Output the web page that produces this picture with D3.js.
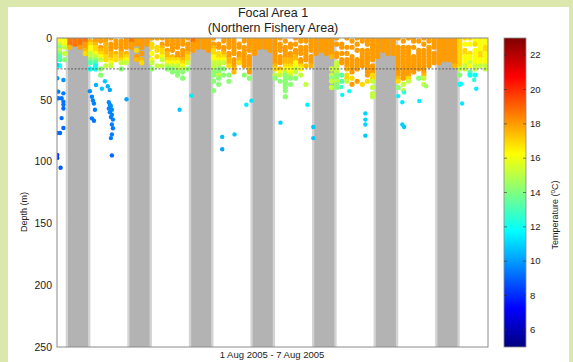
<!DOCTYPE html>
<html>
<head>
<meta charset="utf-8">
<script src="https://cdn.jsdelivr.net/npm/d3@7"></script>
<style>
  html, body { margin: 0; padding: 0; background: #dbe8ad; }
  svg { display: block; font-family: "Liberation Sans", Arial, sans-serif; }
</style>
</head>
<body>
<div id="chart"></div>
<script>
// days on the x axis (UTC), night shading in hours of each day
const days = ["1 Aug", "2 Aug", "3 Aug", "4 Aug", "5 Aug", "6 Aug", "7 Aug"];
const twilightHours = [3.4, 13.0];
const nightHours = [4.3, 12.1];

const depthTicks = [0, 50, 100, 150, 200, 250];
const tempTicks = [6, 8, 10, 12, 14, 16, 18, 20, 22];
const mixedLayerDepth = 25;

// surface layer: one string per 2 h bin, one char per 2.5 m (from 0 m down)
const profileHours = 2;
const profileStep = 2.5;
const tempCodes = { O: 18.7, o: 18.0, r: 17.5, y: 16.9, Y: 16.2, l: 15.2, g: 14.2, G: 13.2, c: 12.0 };

const profilesAug1 = ["YYlglgGG.c", "yYYl.l.g", "OOOr", "OOO.", "OOOo", "OOoory", ".ryYYllgG.c", "ooryyYlgGcc", "oo.oryYl..g.g", "oorrrryy.l", "o.ooorryYl", ".ooo.ryy"];
const profilesAug2 = [".oooorryl.g", "oooo.ryYl", "OOoo", "ooo.y.or", "oooo.o.ry", "ooo", "o.yy.Y.Yl.g", "o..yy.y..l", "o.oryyYl.l", "ooo.orryYlg", "ooooo.ryYlgg", "oooo.ooyYllgg"];
const profilesAug3 = ["ooo.oooryYlg.g", "o.oooryyl.g", "OOooo", "oooo", "oooo", "ooooo", "o.oryyYYlllgg.g..g", "..oo.yyYllgglg.g", "oo.ooryYl.g.g", "oooo.oorry..g.g", "oooooo.ooorr", "..oo.oory"];
const profilesAug4 = ["oo.ooooooo..g", "ooooo.ooooro.g", "oooooo", "oooo", "oooo", "ooooo", "ooooooooory.lg", "o.ooo.ooo.rYl.g", ".o.oooorryYlgggggg.g", "..oo.oorryYYlg.g", "o.o.oorrYYll.g", "oo.ooo.ooyY.l"];
const profilesAug5 = ["oo.ooooo.r.....l", "ooooo.ooor", "oooooo", "ooooo", "oooooo", "oooooor...l.lgl.l", "o.o..oo.llllgglgg", "..oo.o.oo...G.G", "o..o.o.ooor.yyl", ".o.o..oooooo.y.o", "o.o.o..oooo...o", "oo..oooooo.....y"];
const profilesAug6 = ["ooo.ooooooooo.y", "oooooooo.oooyyl.l.ll", "ooooooo", "ooooo", "oooooo", "oooooo", "o..oooooooooory.g", ".o.ooooooooooo.l.l", "o..ooooooooooyl", "oo.o..oooooo", ".o..ooooooo..g", "o.o.oooooooorl.l"];
const profilesAug7 = ["oo.ooooooo", "oooo.oooo", "ooooooooo", "oooooooo", "oooooooo", "ooooooooor", "ryyyyyyyyyl.g..c", "y.Y.yyYYYll", "y.Y..yYYlY.Gc", "YYy.YYYYYll.c", "yYYYYyyYYl", "YYYyyYYYYll"];

// isolated deeper samples: [hours since 1 Aug 00:00, depth m, temperature C]
const deepSamples = [
  [0.1, 21.8, 11.0], [0.1, 32.6, 10.0], [2.5, 34, 9.8], [0.5, 43.4, 9.4], [2.5, 44.8, 9.4],
  [0.5, 48.8, 9.3], [1.8, 48.8, 9.3], [2.5, 51.5, 9.3], [2.5, 54, 9.3], [2.5, 57, 9.2],
  [1.8, 64.8, 9.2], [2.5, 72.8, 9.1], [0.1, 76.9, 9.1], [1.2, 76.9, 9.1], [0.1, 94.7, 8.3],
  [0.1, 97, 8.2], [1.4, 105, 8.8],
  [12.8, 43, 9.8], [13.6, 47.5, 9.6], [14, 50.5, 9.5], [14.4, 53, 9.5], [14.8, 58, 9.4],
  [13.6, 65, 9.3], [14.4, 67, 9.3], [15.2, 38, 10.4], [17.5, 41, 10.8], [18.7, 35, 10.8],
  [19.8, 39, 10.4], [20.6, 42, 10.2],
  [20.2, 52, 9.7], [20.6, 54, 9.7], [21, 55, 9.8], [20.2, 57, 9.6], [21.4, 58, 9.7],
  [20.6, 60, 9.6], [21.4, 62, 9.6], [21, 64, 9.5], [21.8, 66, 9.5], [21.4, 70, 9.5],
  [21.8, 73, 9.4], [21.4, 78, 9.4], [21, 81, 9.4], [21.4, 95, 9.0],
  [27.1, 49.5, 10.2], [47.8, 58, 10.8], [52.4, 46.6, 11.4], [64.4, 80, 10.6], [69.2, 78, 10.8],
  [64.4, 90, 10.2], [73.8, 54, 11.5], [75.8, 50.7, 11.3], [87.1, 68.5, 11.0],
  [97.6, 54, 11.5], [99.9, 72, 10.8], [99.9, 81, 10.8], [110.8, 39.6, 12.6], [111.2, 46, 11.6],
  [113.9, 43, 12.0], [120.2, 61, 11.0], [120.2, 66, 11.0], [120.2, 70, 11.0], [120.2, 79, 10.8],
  [133, 47, 11.6], [134.6, 52, 11.4], [135.3, 44, 12.5], [134.6, 70, 11.0], [135.3, 72, 10.8],
  [141.2, 51, 11.5], [143.9, 39, 14.5],
  [157.5, 37, 11.8], [157.9, 53, 11.4], [162.6, 34, 12.5], [163.4, 41, 11.5]
];

const W = 573, H = 362;
const plot = { left: 57, right: 488, top: 38, bottom: 347 };
const t0 = Date.UTC(2005, 7, 1);
const hourMs = 3600 * 1000;
const atHour = h => new Date(t0 + h * hourMs);

const x = d3.scaleUtc()
  .domain([atHour(0), atHour(days.length * 24)])
  .range([plot.left, plot.right]);
const y = d3.scaleLinear().domain([0, 250]).range([plot.top, plot.bottom]);

// matlab "jet"
const jetStops = [0, 0.125, 0.375, 0.625, 0.875, 1];
const jetColors = ["#00007f", "#0000ff", "#00ffff", "#ffff00", "#ff0000", "#7f0000"];
const tempDomain = [5, 23];
const color = d3.scaleLinear()
  .domain(jetStops.map(s => tempDomain[0] + s * (tempDomain[1] - tempDomain[0])))
  .range(jetColors)
  .clamp(true);

const svg = d3.select('#chart').append('svg').attr('width', W).attr('height', H);

svg.append('rect').attr('x', 8).attr('y', 7).attr('width', 561).attr('height', H)
  .attr('fill', '#ffffff');

svg.append('defs').append('clipPath').attr('id', 'plotClip')
  .append('rect')
  .attr('x', plot.left).attr('y', plot.top)
  .attr('width', plot.right - plot.left).attr('height', plot.bottom - plot.top);

const g = svg.append('g').attr('clip-path', 'url(#plotClip)');

// night shading
const bands = g.append('g').attr('class', 'night');
days.forEach((d, i) => {
  bands.append('rect')
    .attr('x', x(atHour(i * 24 + twilightHours[0])))
    .attr('width', x(atHour(i * 24 + twilightHours[1])) - x(atHour(i * 24 + twilightHours[0])))
    .attr('y', y(0)).attr('height', y(250) - y(0))
    .attr('fill', '#d3d3d3');
  bands.append('rect')
    .attr('x', x(atHour(i * 24 + nightHours[0])))
    .attr('width', x(atHour(i * 24 + nightHours[1])) - x(atHour(i * 24 + nightHours[0])))
    .attr('y', y(0)).attr('height', y(250) - y(0))
    .attr('fill', '#b3b3b3');
});

// surface samples
const profiles = [].concat(profilesAug1, profilesAug2, profilesAug3, profilesAug4,
  profilesAug5, profilesAug6, profilesAug7);
const surface = [];
profiles.forEach((col, k) => {
  col.split('').forEach((ch, i) => {
    if (tempCodes[ch] !== undefined) {
      surface.push({ hour: k * profileHours + profileHours / 2, depth: i * profileStep, temp: tempCodes[ch] });
    }
  });
});

g.append('g').attr('class', 'surface')
  .selectAll('circle')
  .data(surface)
  .join('circle')
  .attr('cx', d => x(atHour(d.hour)))
  .attr('cy', d => y(d.depth))
  .attr('r', 2.6)
  .attr('fill', d => color(d.temp));

g.append('g').attr('class', 'deep')
  .selectAll('circle')
  .data(deepSamples)
  .join('circle')
  .attr('cx', d => x(atHour(d[0])))
  .attr('cy', d => y(d[1]))
  .attr('r', 2.2)
  .attr('fill', d => color(d[2]));

// mixed layer line
g.append('line')
  .attr('x1', plot.left).attr('x2', plot.right)
  .attr('y1', y(mixedLayerDepth)).attr('y2', y(mixedLayerDepth))
  .attr('stroke', '#555').attr('stroke-width', 0.9)
  .attr('stroke-dasharray', '2,1.5');

// frame
svg.append('rect')
  .attr('x', plot.left).attr('y', plot.top)
  .attr('width', plot.right - plot.left).attr('height', plot.bottom - plot.top)
  .attr('fill', 'none').attr('stroke', '#8a8a8a').attr('stroke-width', 1);

const yAxis = svg.append('g').attr('transform', `translate(${plot.left},0)`)
  .call(d3.axisLeft(y).tickValues(depthTicks).tickSize(0).tickPadding(5));
yAxis.select('.domain').remove();
yAxis.selectAll('text').attr('font-size', 10.5).attr('fill', '#222')
  .attr('font-family', '"Liberation Sans", Arial, sans-serif');

svg.append('text')
  .attr('transform', 'translate(27,212) rotate(-90)')
  .attr('text-anchor', 'middle').attr('font-size', 9).attr('fill', '#222')
  .text('Depth (m)');

svg.append('text')
  .attr('x', 272).attr('y', 358)
  .attr('text-anchor', 'middle').attr('font-size', 9.5).attr('fill', '#222')
  .text('1 Aug 2005 - 7 Aug 2005');

svg.append('text').attr('x', 273).attr('y', 17)
  .attr('text-anchor', 'middle').attr('font-size', 12.5).attr('fill', '#222')
  .text('Focal Area 1');
svg.append('text').attr('x', 273).attr('y', 32)
  .attr('text-anchor', 'middle').attr('font-size', 12.5).attr('fill', '#222')
  .text('(Northern Fishery Area)');

// colorbar
const cb = { x: 504, w: 22, top: 38, bottom: 347 };
const cbScale = d3.scaleLinear().domain(tempDomain).range([cb.bottom, cb.top]);
const grad = svg.select('defs').append('linearGradient')
  .attr('id', 'jet').attr('x1', 0).attr('x2', 0).attr('y1', 1).attr('y2', 0);
grad.selectAll('stop').data(jetStops).join('stop')
  .attr('offset', d => d)
  .attr('stop-color', (d, i) => jetColors[i]);

svg.append('rect')
  .attr('x', cb.x).attr('y', cb.top).attr('width', cb.w).attr('height', cb.bottom - cb.top)
  .attr('fill', 'url(#jet)').attr('stroke', '#8a8a8a').attr('stroke-width', 0.8);

const cbTicks = svg.append('g').attr('class', 'cb-ticks');
cbTicks.selectAll('line.l').data(tempTicks).join('line').attr('class', 'l')
  .attr('x1', cb.x).attr('x2', cb.x + 3)
  .attr('y1', d => cbScale(d)).attr('y2', d => cbScale(d))
  .attr('stroke', '#333').attr('stroke-width', 0.6);
cbTicks.selectAll('line.r').data(tempTicks).join('line').attr('class', 'r')
  .attr('x1', cb.x + cb.w - 3).attr('x2', cb.x + cb.w)
  .attr('y1', d => cbScale(d)).attr('y2', d => cbScale(d))
  .attr('stroke', '#333').attr('stroke-width', 0.6);
cbTicks.selectAll('text').data(tempTicks).join('text')
  .attr('x', cb.x + cb.w + 4).attr('y', d => cbScale(d))
  .attr('dy', '0.35em').attr('font-size', 9.5).attr('fill', '#222')
  .text(d => d);

const cbLabel = svg.append('text')
  .attr('transform', 'translate(558,215) rotate(-90)')
  .attr('text-anchor', 'middle').attr('font-size', 9).attr('fill', '#222');
cbLabel.append('tspan').text('Temperature (');
cbLabel.append('tspan').attr('dy', -3).attr('font-size', 6.5).text('o');
cbLabel.append('tspan').attr('dy', 3).text('C)');
</script>
</body>
</html>
